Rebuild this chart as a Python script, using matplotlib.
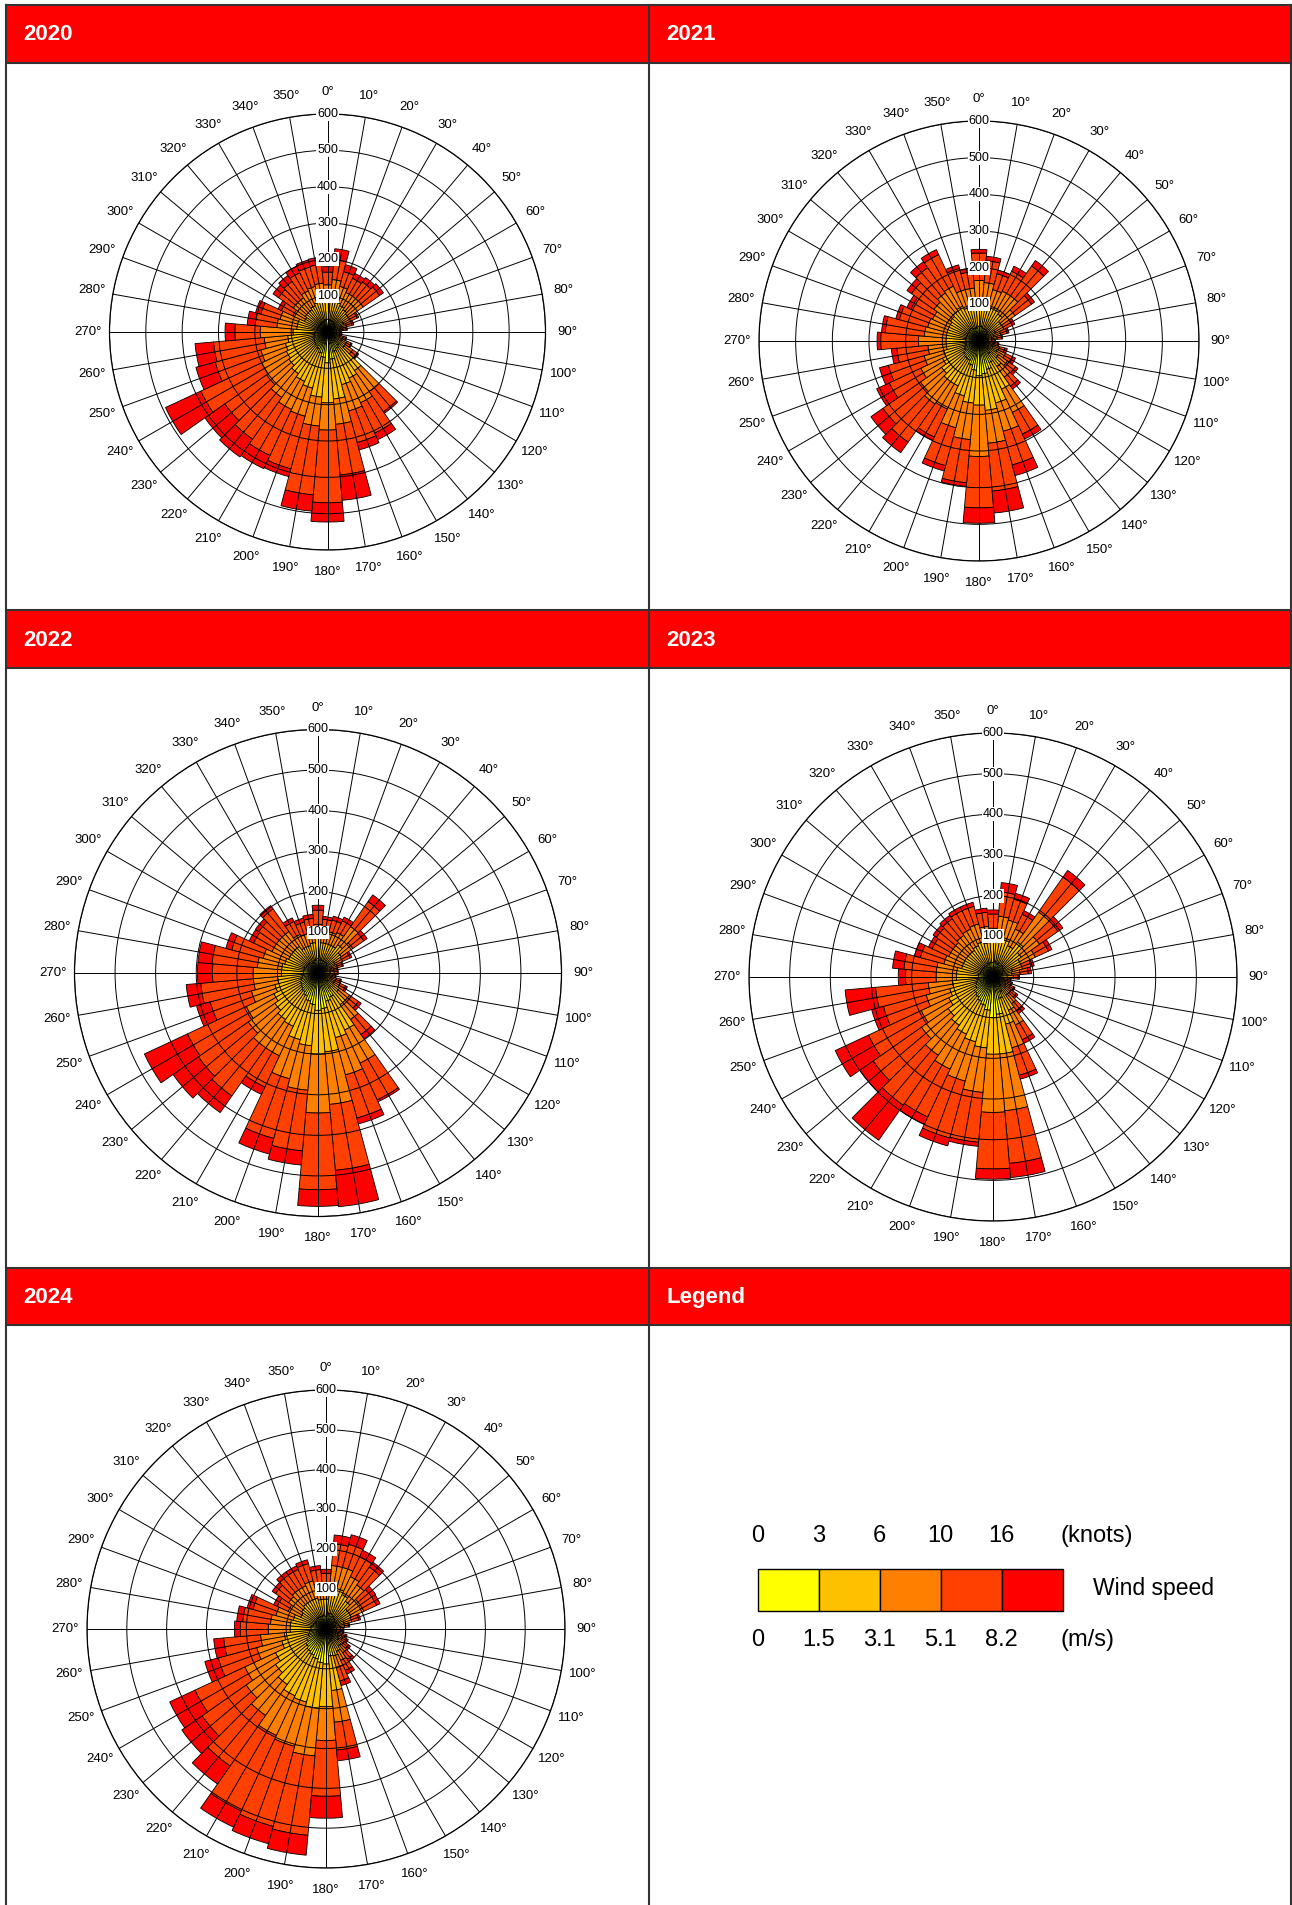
import numpy as np
import matplotlib
matplotlib.use('Agg')
import matplotlib.pyplot as plt
from matplotlib.patches import Rectangle

plt.rcParams['font.family'] = ['Liberation Sans', 'DejaVu Sans']

# ---- data ----
directions = np.arange(0, 360, 10)
speed_colors = ['#FFFF00', '#FFC000', '#FF8000', '#FF4000', '#FF0000']
knots_labels = ['0', '3', '6', '10', '16']
ms_labels = ['0', '1.5', '3.1', '5.1', '8.2']
r_ticks = [100, 200, 300, 400, 500, 600]

# counts per direction (0..350 deg), one row per speed class
# rows: 0-1.5, 1.5-3.1, 3.1-5.1, 5.1-8.2, >8.2 m/s
wind_2020 = [
    [35, 35, 32, 32, 28, 25, 22, 18, 16, 14, 14, 18, 22, 26, 45, 50, 55, 75, 85, 70, 60, 52, 48, 45, 42, 40, 36, 34, 30, 30, 28, 28, 28, 30, 30, 35],
    [55, 60, 53, 48, 47, 45, 28, 22, 17, 11, 11, 17, 23, 34, 85, 90, 95, 110, 110, 110, 100, 98, 92, 85, 83, 80, 74, 61, 55, 55, 42, 47, 47, 50, 55, 55],
    [40, 50, 45, 40, 45, 50, 20, 15, 10, 7, 8, 10, 15, 25, 70, 75, 75, 70, 75, 80, 80, 85, 80, 75, 75, 70, 65, 90, 55, 50, 35, 40, 40, 45, 45, 45],
    [35, 55, 42, 43, 48, 55, 20, 15, 9, 5, 6, 8, 12, 17, 68, 92, 90, 140, 200, 190, 150, 140, 140, 140, 185, 130, 140, 70, 60, 55, 35, 50, 55, 55, 55, 52],
    [15, 30, 20, 15, 15, 13, 5, 5, 3, 1, 1, 2, 3, 3, 5, 20, 21, 70, 53, 45, 22, 40, 60, 67, 107, 55, 51, 27, 22, 15, 10, 18, 20, 20, 20, 20],
]
wind_2021 = [
    [40, 40, 36, 36, 32, 28, 22, 20, 18, 14, 16, 20, 27, 32, 42, 65, 80, 90, 95, 80, 68, 58, 56, 52, 44, 40, 36, 36, 36, 36, 36, 36, 40, 40, 36, 36],
    [65, 65, 59, 59, 58, 47, 28, 22, 17, 11, 14, 20, 28, 33, 43, 80, 95, 100, 80, 90, 87, 77, 79, 73, 66, 60, 54, 54, 54, 54, 54, 59, 60, 65, 59, 59],
    [60, 55, 50, 55, 60, 45, 25, 20, 15, 10, 12, 18, 25, 30, 35, 70, 80, 90, 140, 100, 90, 70, 75, 70, 65, 55, 50, 75, 60, 55, 50, 55, 60, 60, 50, 50],
    [75, 60, 45, 60, 100, 55, 25, 18, 12, 8, 10, 15, 22, 27, 30, 65, 95, 131, 140, 118, 107, 84, 127, 125, 95, 101, 85, 103, 107, 80, 65, 75, 84, 95, 60, 45],
    [10, 12, 10, 15, 18, 10, 8, 5, 3, 2, 3, 7, 8, 8, 10, 15, 30, 60, 42, 10, 15, 10, 35, 40, 38, 25, 15, 10, 10, 10, 12, 15, 20, 15, 10, 10],
]
wind_2022 = [
    [36, 32, 32, 32, 32, 28, 22, 18, 16, 16, 15, 18, 22, 30, 44, 66, 72, 88, 92, 78, 72, 62, 56, 52, 48, 44, 40, 36, 36, 36, 32, 32, 32, 28, 28, 32],
    [49, 43, 43, 43, 53, 42, 25, 17, 14, 14, 13, 17, 23, 35, 51, 89, 93, 107, 108, 102, 98, 83, 84, 78, 72, 66, 60, 54, 54, 49, 48, 48, 48, 42, 42, 43],
    [35, 30, 30, 35, 55, 35, 20, 15, 10, 10, 9, 12, 15, 30, 45, 90, 95, 130, 145, 110, 100, 80, 85, 80, 75, 60, 60, 70, 60, 55, 45, 45, 45, 35, 30, 30],
    [35, 28, 30, 32, 75, 33, 20, 12, 8, 8, 6, 10, 15, 27, 45, 100, 110, 163, 189, 150, 152, 85, 145, 150, 160, 105, 130, 100, 112, 80, 50, 53, 68, 35, 30, 30],
    [12, 7, 10, 10, 20, 10, 5, 3, 2, 2, 2, 3, 5, 8, 13, 5, 15, 90, 41, 35, 40, 20, 50, 76, 117, 35, 36, 37, 35, 15, 12, 10, 10, 10, 10, 10],
]
wind_2023 = [
    [36, 40, 36, 32, 36, 32, 30, 22, 22, 18, 14, 15, 18, 20, 27, 40, 54, 92, 100, 82, 72, 66, 60, 56, 48, 44, 40, 36, 36, 32, 32, 32, 32, 32, 36, 36],
    [49, 60, 59, 53, 69, 53, 45, 28, 25, 17, 13, 14, 17, 20, 28, 50, 66, 98, 90, 93, 93, 89, 85, 79, 72, 66, 60, 54, 54, 48, 48, 48, 48, 53, 54, 49],
    [35, 50, 50, 45, 90, 55, 40, 25, 20, 15, 9, 10, 12, 15, 25, 40, 60, 140, 143, 110, 100, 95, 90, 80, 75, 60, 60, 50, 50, 45, 40, 40, 45, 45, 45, 40],
    [35, 60, 53, 40, 105, 55, 35, 22, 20, 12, 7, 8, 10, 15, 22, 40, 70, 130, 139, 123, 145, 130, 150, 145, 143, 109, 130, 75, 80, 60, 45, 50, 50, 50, 45, 35],
    [10, 23, 15, 10, 20, 15, 10, 8, 8, 3, 2, 3, 3, 5, 8, 10, 10, 35, 25, 10, 20, 20, 105, 40, 90, 30, 75, 18, 28, 15, 10, 10, 10, 10, 10, 10],
]
wind_2024 = [
    [32, 40, 40, 36, 32, 28, 30, 22, 18, 14, 14, 16, 18, 20, 25, 28, 30, 68, 88, 85, 78, 72, 68, 62, 54, 46, 42, 38, 38, 34, 30, 30, 34, 34, 34, 34],
    [43, 65, 65, 59, 53, 42, 40, 25, 17, 13, 13, 15, 17, 20, 28, 34, 40, 87, 107, 115, 112, 113, 102, 93, 86, 69, 63, 52, 52, 51, 40, 45, 46, 46, 46, 41],
    [35, 55, 55, 50, 50, 35, 35, 20, 12, 9, 9, 11, 12, 15, 20, 25, 30, 80, 85, 120, 115, 110, 95, 90, 85, 65, 60, 55, 50, 45, 35, 40, 40, 40, 45, 40],
    [30, 55, 60, 55, 55, 35, 35, 18, 10, 7, 7, 9, 10, 14, 20, 28, 35, 70, 140, 200, 208, 209, 155, 135, 138, 100, 93, 70, 70, 60, 30, 40, 45, 45, 45, 35],
    [10, 22, 25, 18, 15, 12, 10, 5, 3, 2, 2, 4, 5, 6, 7, 10, 12, 27, 55, 50, 45, 45, 55, 62, 70, 35, 25, 15, 15, 15, 10, 10, 10, 10, 10, 10],
]

W, H = 1292, 1905
fig = plt.figure(figsize=(W / 100, H / 100), dpi=100)

# background layer in pixel coordinates (y downwards)
bg = fig.add_axes([0, 0, 1, 1])
bg.set_xlim(0, W)
bg.set_ylim(H, 0)
bg.axis('off')

col_x = [6, 649, 1291]
header_rows = [(5, 63), (610, 668), (1268, 1325)]
titles = [['2020', '2021'], ['2022', '2023'], ['2024', 'Legend']]
border = '#333333'

for i, (y0, y1) in enumerate(header_rows):
    bg.add_patch(Rectangle((col_x[0], y0), col_x[2] - col_x[0], y1 - y0,
                           facecolor='#FF0000', edgecolor='none'))
    for j in range(2):
        bg.text(col_x[j] + 17, (y0 + y1) / 2 + 1, titles[i][j], color='white',
                fontsize=16, fontweight='bold', ha='left', va='center')
    bg.plot([col_x[0], col_x[2]], [y0, y0], color=border, lw=1.5)
    bg.plot([col_x[0], col_x[2]], [y1, y1], color=border, lw=1.5)
for x in col_x:
    bg.plot([x, x], [header_rows[0][0], H], color=border, lw=1.5)


def draw_rose(data, cx, cy, R):
    ax = fig.add_axes([(cx - R) / W, 1 - (cy + R) / H, 2 * R / W, 2 * R / H],
                      projection='polar')
    ax.set_theta_zero_location('N')
    ax.set_theta_direction(-1)
    theta = np.radians(directions)
    bottom = np.zeros(len(directions))
    for vals, c in zip(data, speed_colors):
        vals = np.array(vals, dtype=float)
        ax.bar(theta, vals, width=np.radians(10), bottom=bottom, color=c,
               edgecolor='black', linewidth=0.6, align='center')
        bottom += vals
    ax.set_ylim(0, 600)
    ax.set_yticks(r_ticks)
    ax.set_yticklabels([])
    ax.set_xticks(theta)
    ax.set_xticklabels([f'{d}°' for d in directions], fontsize=9.5)
    ax.tick_params(axis='x', pad=5)
    ax.grid(True, color='black', lw=0.7)
    ax.set_axisbelow(False)
    ax.spines['polar'].set_linewidth(0.9)
    for r in r_ticks:
        ax.text(0, r, str(r), ha='center', va='center', fontsize=9, zorder=5,
                bbox=dict(facecolor='white', edgecolor='none', pad=0.6))
    return ax


draw_rose(wind_2020, 327.5, 332, 218)
draw_rose(wind_2021, 979, 341, 220)
draw_rose(wind_2022, 318, 973, 243.5)
draw_rose(wind_2023, 993, 977, 244)
draw_rose(wind_2024, 326, 1629, 239)

# legend cell
box_x = np.linspace(758, 1062.5, 6)
for k, c in enumerate(speed_colors):
    bg.add_patch(Rectangle((box_x[k], 1569), box_x[k + 1] - box_x[k], 42,
                           facecolor=c, edgecolor='black', lw=1))
for k in range(5):
    bg.text(box_x[k], 1536, knots_labels[k], ha='center', va='center', fontsize=17)
    bg.text(box_x[k], 1640, ms_labels[k], ha='center', va='center', fontsize=17)
bg.text(1061, 1536, '(knots)', ha='left', va='center', fontsize=17)
bg.text(1061, 1640, '(m/s)', ha='left', va='center', fontsize=17)
bg.text(1093, 1588, 'Wind speed', ha='left', va='center', fontsize=16.5)

fig.savefig('out.png', dpi=100)
